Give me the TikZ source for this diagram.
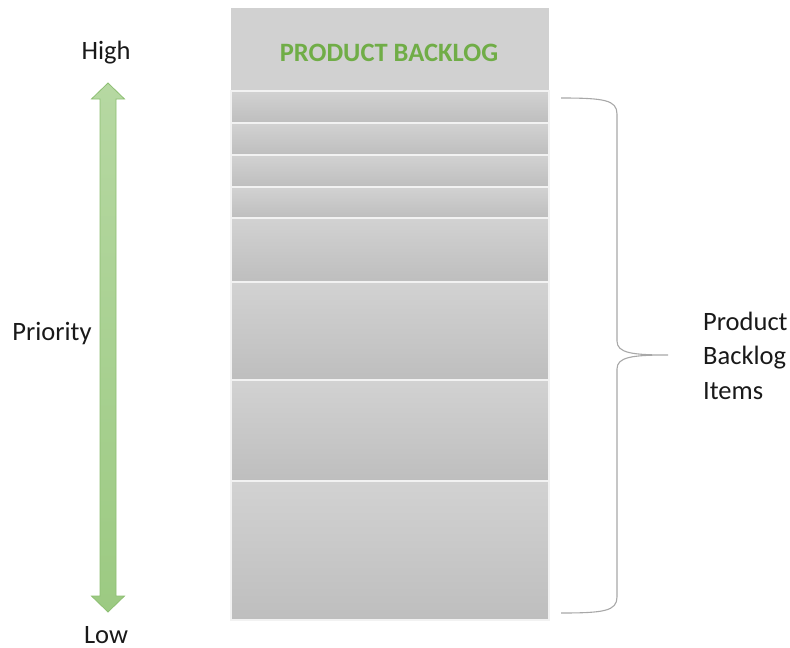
\documentclass[tikz,border=0pt]{standalone}
\usepackage{fontspec}
\setmainfont{Carlito}
\usetikzlibrary{positioning}

\definecolor{headgray}{HTML}{D1D1D1}
\definecolor{bandtop}{HTML}{D2D2D2}
\definecolor{bandbot}{HTML}{BEBEBE}
\definecolor{titlegreen}{HTML}{70AD47}
\definecolor{arrowlight}{HTML}{B6D8A2}
\definecolor{arrowdark}{HTML}{9CCA82}
\definecolor{arrowline}{HTML}{8DBF72}
\definecolor{bracegray}{HTML}{A8A8A8}

\begin{document}
\begin{tikzpicture}[x=1pt,y=-1pt,
  font=\fontsize{26.5}{34.5}\selectfont,
  band/.style={top color=bandtop, bottom color=bandbot, draw=white!90!gray, line width=1.6pt},
  lbl/.style={inner sep=0pt, anchor=base, text=black!90}]
  \useasboundingbox (0,0) rectangle (790,648);

  % the backlog column
  \fill[headgray] (231,8) rectangle (549,91);
  \node[font=\fontsize{26.5}{30}\selectfont\bfseries, text=titlegreen, inner sep=0pt, anchor=base] (title) at (389,61) {PRODUCT BACKLOG};
  \foreach \ya/\yb in {91/123,123/155,155/187,187/218,218/282,282/380,380/481,481/620}
    \draw[band] (231,\ya) rectangle (549,\yb);

  % priority arrow
  \draw[arrowline, line width=0.8pt, top color=arrowlight, bottom color=arrowdark]
    (108,83) -- (124.5,99) -- (116,99) -- (116,596) -- (124.5,596) -- (108,612)
    -- (91.5,596) -- (100,596) -- (100,99) -- (91.5,99) -- cycle;
  \node[lbl] (high) at (106,59) {High};
  \node[lbl] (low) at (106,643) {Low};
  \node[lbl] (prio) at (52,340) {Priority};

  % brace over the items
  \coordinate (btop) at (561,98);
  \coordinate (bbot) at (561,613);
  \coordinate (btip) at (668,355);
  \draw[bracegray, line width=1.1pt] (btop) .. controls (604,98) and (617,100) .. (617,114)
    -- (617,341) .. controls (617,353) and (632,355) .. (btip)
    .. controls (632,355) and (617,357) .. (617,369)
    -- (617,597) .. controls (617,611) and (604,613) .. (bbot);
  \node[lbl, anchor=base west] (prod) at (703,330) {Product};
  \node[lbl, anchor=base west] (backlog) at (703,364) {Backlog};
  \node[lbl, anchor=base west] (items) at (703,399) {Items};
\end{tikzpicture}
\end{document}
